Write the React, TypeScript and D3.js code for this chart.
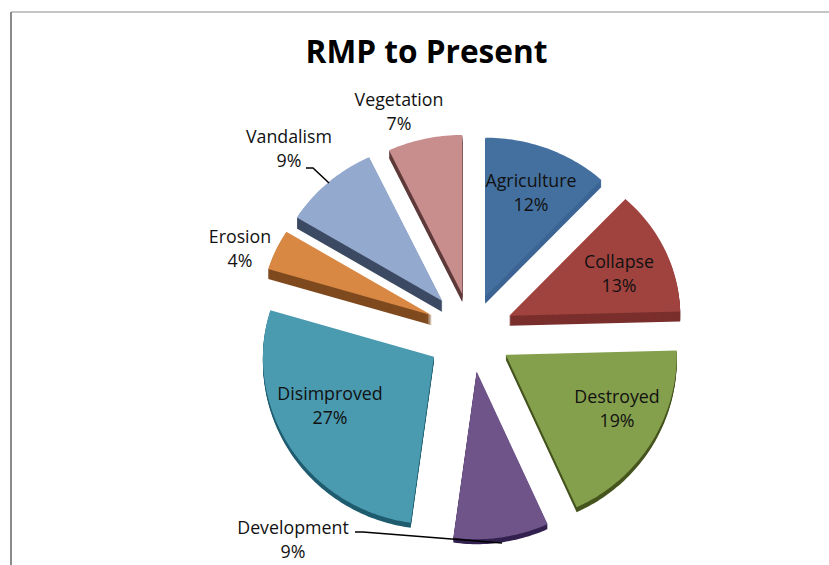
import React from "react";
import * as d3 from "d3";

const categories = ["Agriculture", "Collapse", "Destroyed", "Development", "Disimproved", "Erosion", "Vandalism", "Vegetation"];
const values = [12, 13, 19, 9, 27, 4, 9, 7];
const topColors = ["#44709f", "#a0433f", "#85a04d", "#6e5488", "#4a9ab0", "#d98844", "#93a9cd", "#c88e8e"];
const sideColors = ["#3c6594", "#7a2f2d", "#46551f", "#33214f", "#1f5c6f", "#7f4a1f", "#3d4a63", "#5e3a3a"];
const explodes = [39, 42, 41, 39, 44, 43, 43, 40];
const depths = [7, 10, 5, 5, 5, 10, 11, 8];
const labelPos: [number, number][] = [[531, 181], [619, 262], [617, 397], [293, 528], [330, 394], [240, 237], [289, 137], [399, 100]];

const W = 829, H = 565, CX = 471, CY = 333, R = 171;
const FAR_SCALE = 0.93, NEAR_SCALE = 0.98;

// The tilted 3D view turns the slices a little, most of all at the bottom of the pie.
const warp = (a: number) => a - (1.5 * Math.PI / 180) * (1 - Math.cos(a));
const slicePath = (a0: number, a1: number) => {
  const n = Math.ceil((a1 - a0) / 0.02);
  const rim = d3.range(n + 1).map((k): [number, number] => {
    const a = a0 + ((a1 - a0) * k) / n;
    const y = -Math.cos(a) * R;
    return [Math.sin(a) * R, y * (y < 0 ? FAR_SCALE : NEAR_SCALE)];
  });
  return (d3.line()([[0, 0], ...rim]) as string) + "Z";
};

export default function App() {
  const pie = d3.pie<number>().sort(null).value((d) => d)(values);
  const font = "Open Sans, 'Noto Sans', sans-serif";
  const order = [7, 6, 0, 5, 1, 4, 2, 3];
  return (
    <svg width={W} height={H} style={{ position: "fixed", left: 0, top: 0 }}>
      <rect width={W} height={H} fill="#fff" />
      <path d={`M${W} 12H11V${H}`} fill="none" stroke="#8a8a8a" strokeWidth={1} />
      <path d={`M11 12V${H}`} fill="none" stroke="#8a8a8a" strokeWidth={2} />
      <text x={426.5} y={63} textAnchor="middle" fontFamily={font} fontWeight={700} fontSize={31.6} fill="#000">RMP to Present</text>
      {order.map((i) => {
        const d = pie[i];
        const s0 = warp(d.startAngle);
        const s1 = warp(d.endAngle);
        const mid = (s0 + s1) / 2;
        const ox = CX + Math.sin(mid) * explodes[i];
        const oy = CY - Math.cos(mid) * explodes[i];
        const path = slicePath(s0, s1);
        return (
          <g key={categories[i]} transform={`translate(${ox},${oy})`}>
            {d3.range(depths[i], 0, -1).map((s) => (
              <path key={s} d={path} transform={`translate(0,${s})`} fill={sideColors[i]} />
            ))}
            <path d={path} fill={topColors[i]} />
          </g>
        );
      })}
      <path d="M306 168H313L329 183" fill="none" stroke="#000" strokeWidth={1.5} />
      <path d="M355 532H363L502 543" fill="none" stroke="#000" strokeWidth={1.5} />
      {categories.map((c, i) => (
        <text key={c} textAnchor="middle" fontFamily={font} fontSize={17.8} fill="#111">
          <tspan x={labelPos[i][0]} y={labelPos[i][1] + 6}>{c}</tspan>
          <tspan x={labelPos[i][0]} dy={24}>{values[i]}%</tspan>
        </text>
      ))}
    </svg>
  );
}
